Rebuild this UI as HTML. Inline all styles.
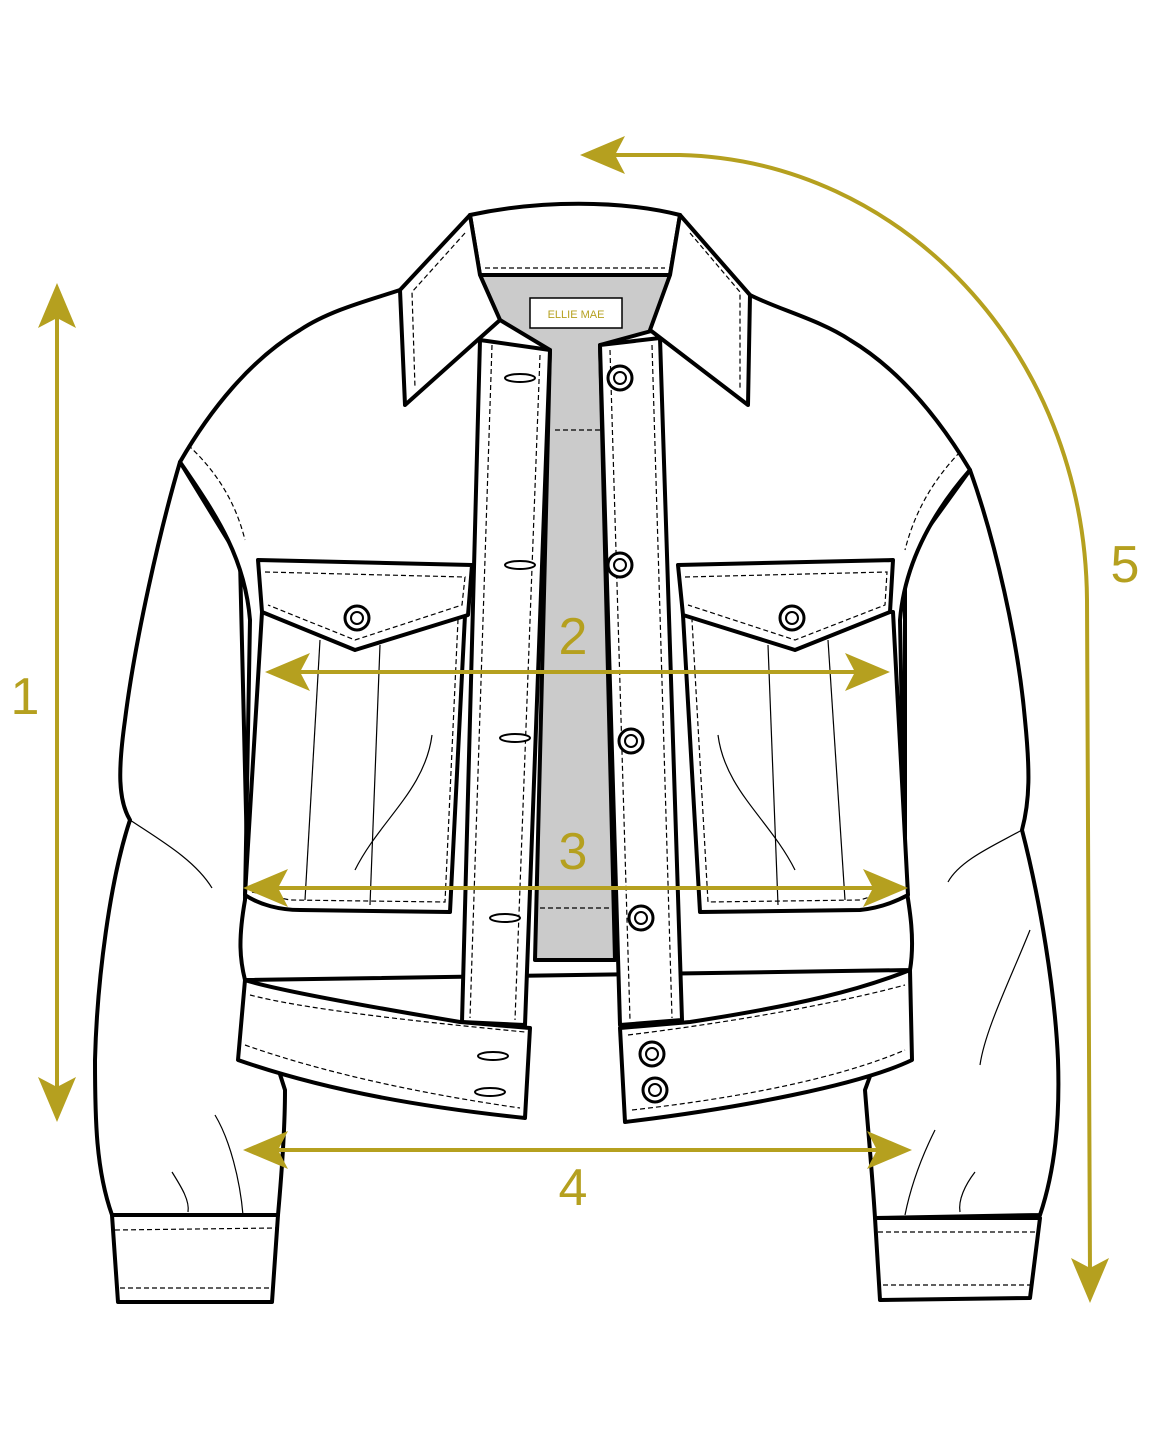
<!DOCTYPE html>
<html><head><meta charset="utf-8"><style>
html,body{margin:0;padding:0;background:#fff}
svg{display:block}
text{font-family:"Liberation Sans",sans-serif}
</style></head><body>
<svg width="1152" height="1440" viewBox="0 0 1152 1440" xmlns="http://www.w3.org/2000/svg">
<defs>
<marker id="ah" markerWidth="10" markerHeight="10" refX="7" refY="5" orient="auto-start-reverse" markerUnits="userSpaceOnUse" viewBox="0 0 10 10">
</marker>
</defs>
<g fill="#fff" stroke="#000" stroke-width="4" stroke-linejoin="round" stroke-linecap="round">
<!-- sleeves -->
<path d="M180,462 C160,530 135,640 125,720 C118,770 118,800 130,820 C110,880 97,980 95,1060 C95,1120 96,1170 112,1215 L278,1215 C282,1170 285,1130 285,1090 L250,980 L240,560 Z"/>
<path d="M970,470 C995,540 1018,640 1025,720 C1030,770 1030,800 1022,830 C1040,900 1055,990 1058,1060 C1060,1120 1055,1170 1040,1215 L875,1218 C872,1170 868,1130 865,1090 L905,980 L905,560 Z"/>
<!-- body -->
<path d="M400,290 C370,300 330,310 300,330 C250,360 210,410 180,462 C220,520 245,560 250,620 L245,900 C238,940 240,960 245,980 L910,970 C915,940 910,910 905,880 L900,620 C905,560 935,510 970,470 C940,420 900,370 850,340 C820,320 780,310 750,295 Z"/>
<!-- gray inside -->
<path d="M480,275 L670,275 L655,330 L600,345 L615,960 L535,960 L550,350 L500,320 Z" fill="#cbcbcb"/>
<!-- plackets -->
<path d="M480,340 L550,350 L525,1025 L462,1022 Z"/>
<path d="M600,345 L660,338 L682,1020 L620,1025 Z"/>
<!-- hem bands -->
<path d="M245,980 C260,985 300,995 460,1022 L530,1028 L525,1118 C430,1108 330,1092 238,1060 Z"/>
<path d="M620,1028 L690,1022 C800,1005 860,990 910,970 L912,1060 C860,1085 740,1108 625,1122 Z"/>
<!-- collar -->
<path d="M470,215 C540,200 620,200 680,215 L670,275 L480,275 Z"/>
<path d="M470,215 L400,290 L405,405 L500,320 L480,275 Z"/>
<path d="M680,215 L750,295 L748,405 L650,330 L670,275 Z"/>
<!-- pockets -->
<path d="M262,612 L245,895 C260,905 280,910 300,910 L450,912 L465,615 Z"/>
<path d="M258,560 L472,565 L468,615 L355,650 L262,612 Z"/>
<path d="M683,615 L700,912 L860,910 C880,908 895,902 908,895 L893,612 Z"/>
<path d="M678,565 L893,560 L890,612 L795,650 L683,615 Z"/>
<!-- cuffs -->
<path d="M112,1215 L278,1215 L272,1302 L118,1302 Z"/>
<path d="M875,1218 L1040,1218 L1030,1298 L880,1300 Z"/>
</g>
<!-- stitching -->
<g fill="none" stroke="#000" stroke-width="1.2" stroke-dasharray="5,3">
<path d="M485,268 L665,268"/>
<path d="M465,233 L412,292 L415,388"/><path d="M690,233 L740,292 L740,388"/>
<path d="M492,345 L470,1018"/><path d="M540,355 L515,1020"/>
<path d="M610,350 L630,1020"/><path d="M652,345 L672,1018"/>
<path d="M265,572 L465,577 L462,605 L355,640 L268,605"/>
<path d="M685,577 L887,572 L885,605 L795,640 L688,605"/>
<path d="M252,892 L290,900 L445,902 L458,620"/>
<path d="M898,888 L860,900 L708,902 L692,620"/>
<path d="M250,995 C300,1008 400,1020 525,1032"/><path d="M245,1045 C330,1075 430,1095 520,1108"/>
<path d="M628,1035 C750,1020 850,1000 905,985"/><path d="M632,1110 C740,1098 840,1078 905,1050"/>
<path d="M115,1230 L276,1228"/><path d="M120,1288 L270,1288"/>
<path d="M878,1232 L1037,1232"/><path d="M883,1285 L1030,1285"/>
<path d="M188,445 C215,470 235,500 245,540"/><path d="M960,452 C935,478 915,510 905,550"/>
<path d="M555,430 L600,430"/><path d="M540,908 L615,908"/>
</g>
<g fill="none" stroke="#000" stroke-width="1.2">
<path d="M320,640 L305,900"/><path d="M380,645 L370,905"/>
<path d="M768,645 L778,905"/><path d="M828,640 L845,900"/>
<path d="M130,820 C160,840 195,860 212,888"/><path d="M1022,830 C995,845 960,860 948,882"/>
<path d="M355,870 C380,820 425,790 432,735"/><path d="M795,870 C770,820 725,790 718,735"/>
<path d="M1030,930 C1010,980 985,1030 980,1065"/>
<path d="M215,1115 C230,1140 240,1180 243,1215"/><path d="M935,1130 C920,1160 910,1190 905,1215"/>
<path d="M172,1172 C180,1185 190,1200 188,1212"/><path d="M975,1172 C965,1185 958,1200 960,1212"/>
</g>
<!-- buttons -->
<g fill="#fff" stroke="#000" stroke-width="3">
<circle cx="620" cy="378" r="12"/><circle cx="620" cy="565" r="12"/><circle cx="631" cy="741" r="12"/>
<circle cx="641" cy="918" r="12"/><circle cx="652" cy="1054" r="12"/><circle cx="655" cy="1090" r="12"/>
<circle cx="357" cy="618" r="12"/><circle cx="792" cy="618" r="12"/>
</g>
<g fill="#fff" stroke="#000" stroke-width="2">
<circle cx="620" cy="378" r="6"/><circle cx="620" cy="565" r="6"/><circle cx="631" cy="741" r="6"/>
<circle cx="641" cy="918" r="6"/><circle cx="652" cy="1054" r="6"/><circle cx="655" cy="1090" r="6"/>
<circle cx="357" cy="618" r="6"/><circle cx="792" cy="618" r="6"/>
<ellipse cx="520" cy="378" rx="15" ry="4"/><ellipse cx="520" cy="565" rx="15" ry="4"/>
<ellipse cx="515" cy="738" rx="15" ry="4"/><ellipse cx="505" cy="918" rx="15" ry="4"/>
<ellipse cx="493" cy="1056" rx="15" ry="4"/><ellipse cx="490" cy="1092" rx="15" ry="4"/>
</g>
<rect x="530" y="298" width="92" height="30" fill="#fff" stroke="#000" stroke-width="1.5"/>
<text x="576" y="318" font-size="11" fill="#b5a01f" text-anchor="middle">ELLIE MAE</text>
<!-- measurements -->
<g stroke="#b5a01f" stroke-width="4" fill="none">
<path d="M57,310 L57,1095"/>
<path d="M295,672 L860,672"/>
<path d="M270,888 L880,888"/>
<path d="M270,1150 L885,1150"/>
<path d="M610,155 L680,155 C900,160 1085,350 1087,600 L1090,1275"/>
</g>
<g fill="#b5a01f">
<path d="M57,283 L38,328 L57,318 L76,328 Z"/>
<path d="M57,1122 L38,1077 L57,1087 L76,1077 Z"/>
<path d="M265,672 L310,653 L300,672 L310,691 Z"/>
<path d="M890,672 L845,653 L855,672 L845,691 Z"/>
<path d="M243,888 L288,869 L278,888 L288,907 Z"/>
<path d="M908,888 L863,869 L873,888 L863,907 Z"/>
<path d="M243,1150 L288,1131 L278,1150 L288,1169 Z"/>
<path d="M912,1150 L867,1131 L877,1150 L867,1169 Z"/>
<path d="M580,155 L625,136 L615,155 L625,174 Z"/>
<path d="M1090,1303 L1071,1258 L1090,1268 L1109,1258 Z"/>
</g>
<g fill="#b5a01f" font-size="52" text-anchor="middle">
<text x="25" y="714">1</text>
<text x="573" y="654">2</text>
<text x="573" y="869">3</text>
<text x="573" y="1205">4</text>
<text x="1125" y="582">5</text>
</g>
</svg>
</body></html>
